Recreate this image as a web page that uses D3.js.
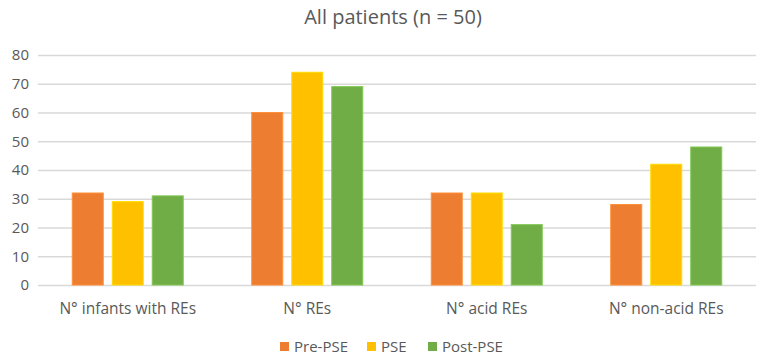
<!DOCTYPE html>
<html>
<head>
<meta charset="utf-8">
<script src="https://cdn.jsdelivr.net/npm/d3@7"></script>
<style>
  body { margin: 0; background: #fff; }
  text { font-family: "Open Sans", "Liberation Sans", sans-serif; fill: #595959; }
</style>
</head>
<body>
<svg id="chart" width="765" height="359"></svg>
<script>
// Data
var categories = ["N° infants with REs", "N° REs", "N° acid REs", "N° non-acid REs"];
var seriesNames = ["Pre-PSE", "PSE", "Post-PSE"];
var prePSE = [32, 60, 32, 28];
var pse = [29, 74, 32, 42];
var postPSE = [31, 69, 21, 48];
var yTicks = [0, 10, 20, 30, 40, 50, 60, 70, 80];
var colors = ["#ED7D31", "#FFC000", "#70AD47"];

var seriesValues = [prePSE, pse, postPSE];

var svg = d3.select("#chart");
var margin = { top: 55, right: 9, bottom: 74, left: 38 };
var width = 765 - margin.left - margin.right,
    height = 359 - margin.top - margin.bottom;

var g = svg.append("g").attr("transform", "translate(" + margin.left + "," + margin.top + ")");

// Scales
var x0 = d3.scaleBand().domain(categories).range([0, width]).padding(0);
var x1 = d3.scaleBand().domain(seriesNames)
    .range([(x0.bandwidth() - 111) / 2, (x0.bandwidth() + 111) / 2])
    .paddingInner(0.225);
var y = d3.scaleLinear().domain([0, 80]).range([height, 0]);

// Gridlines
g.selectAll(".grid")
    .data(yTicks)
    .enter().append("line")
    .attr("x1", 0)
    .attr("x2", width)
    .attr("y1", d => y(d) + 0.5)
    .attr("y2", d => y(d) + 0.5)
    .attr("stroke", "#d9d9d9")
    .attr("stroke-width", 1.3);

// Y tick labels
g.selectAll(".ytick")
    .data(yTicks)
    .enter().append("text")
    .attr("x", -9)
    .attr("y", d => y(d))
    .attr("dy", "0.36em")
    .attr("text-anchor", "end")
    .style("font-size", "15px")
    .text(d => d);

// Bars
categories.forEach(function(cat, ci) {
    var grp = g.append("g").attr("transform", "translate(" + x0(cat) + ",0)");
    seriesNames.forEach(function(s, si) {
        var v = seriesValues[si][ci];
        grp.append("rect")
            .attr("x", x1(s))
            .attr("y", y(v))
            .attr("width", x1.bandwidth())
            .attr("height", height - y(v))
            .attr("fill", colors[si])
            .attr("stroke", d3.color(colors[si]).brighter(0.4))
            .attr("stroke-width", 1);
    });
});

// Category labels
g.selectAll(".xlabel")
    .data(categories)
    .enter().append("text")
    .attr("x", d => x0(d) + x0.bandwidth() / 2)
    .attr("y", height + 29)
    .attr("text-anchor", "middle")
    .style("font-size", "15.5px")
    .text(d => d);

// Title
svg.append("text")
    .attr("x", 393)
    .attr("y", 24)
    .attr("text-anchor", "middle")
    .style("font-size", "20px")
    .text("All patients (n = 50)");

// Legend
var legendX = [280, 367, 428];
seriesNames.forEach(function(s, i) {
    svg.append("rect")
        .attr("x", legendX[i])
        .attr("y", 342)
        .attr("width", 9)
        .attr("height", 9)
        .attr("fill", colors[i]);
    svg.append("text")
        .attr("x", legendX[i] + 14)
        .attr("y", 347)
        .attr("dy", "0.36em")
        .style("font-size", "15px")
        .text(s);
});
</script>
</body>
</html>
